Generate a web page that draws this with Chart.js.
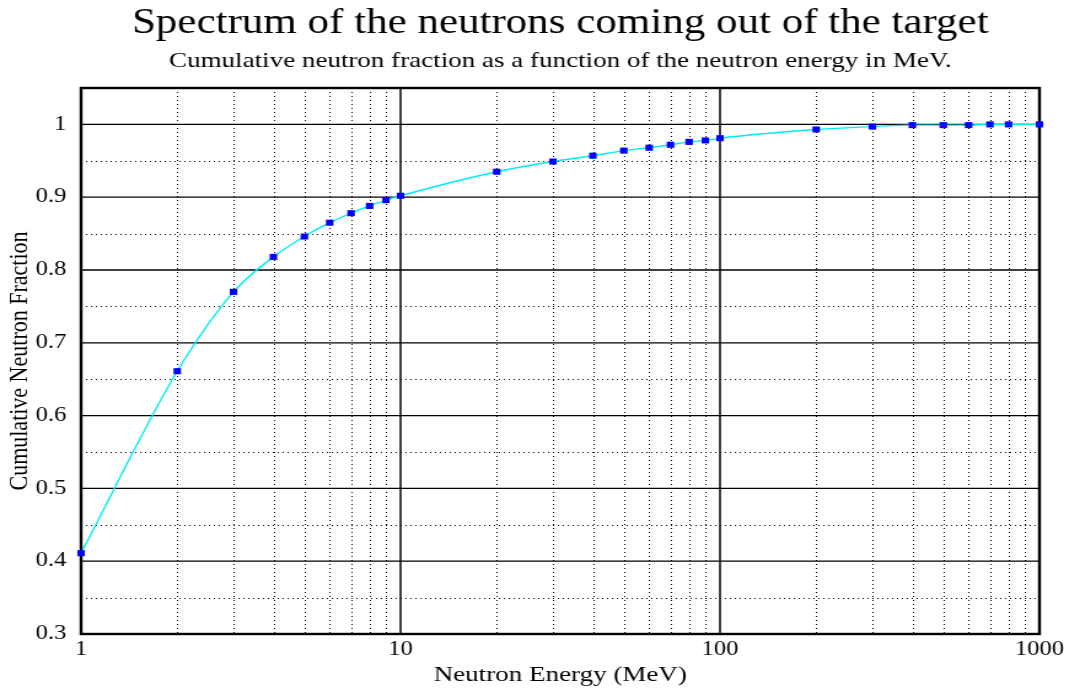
<!DOCTYPE html>
<html>
<head>
<meta charset="utf-8">
<title>Neutron spectrum</title>
<script src="https://cdn.jsdelivr.net/npm/chart.js"></script>
<style>
  html, body { margin: 0; padding: 0; background: #fff; overflow: hidden; }
  /* the reference is stretched sideways, so the chart is drawn narrower and widened here */
  .wrap { width: 870px; height: 689px; transform: scaleX(1.2287); transform-origin: 0 0; }
  #chart { display: block; }
</style>
</head>
<body>
<div class="wrap"><canvas id="chart" width="870" height="689"></canvas></div>
<script>
const energies = [1, 2, 3, 4, 5, 6, 7, 8, 9, 10, 20, 30, 40, 50, 60, 70, 80, 90, 100, 200, 300, 400, 500, 600, 700, 800, 1000]
const fractions = [0.411, 0.661, 0.770, 0.818, 0.846, 0.865, 0.878, 0.888, 0.896, 0.902, 0.935, 0.949, 0.957, 0.964, 0.968, 0.972, 0.976, 0.978, 0.981, 0.993, 0.997, 0.999, 0.999, 0.999, 1.0, 1.0, 1.0]

const x_ticks = [1, 10, 100, 1000]
const y_ticks = [0.3, 0.4, 0.5, 0.6, 0.7, 0.8, 0.9, 1.0]
const x_minor = [2, 3, 4, 5, 6, 7, 8, 9, 20, 30, 40, 50, 60, 70, 80, 90, 200, 300, 400, 500, 600, 700, 800, 900]
const y_minor = [0.35, 0.45, 0.55, 0.65, 0.75, 0.85, 0.95]

const serif = '"Liberation Serif", "DejaVu Serif", serif'

// gnuplot style grid: dotted minor lines, solid major lines, heavy frame
const gridPlugin = {
  id: 'gridPlugin',
  beforeDatasetsDraw(chart) {
    const ctx = chart.ctx
    const area = chart.chartArea
    const xs = chart.scales.x
    const ys = chart.scales.y
    ctx.save()
    ctx.strokeStyle = '#000'

    ctx.lineWidth = 1
    ctx.setLineDash([1, 3])
    x_minor.forEach(v => {
      const px = Math.round(xs.getPixelForValue(v)) + 0.5
      ctx.beginPath()
      ctx.moveTo(px, area.top)
      ctx.lineTo(px, area.bottom)
      ctx.stroke()
    })
    y_minor.forEach(v => {
      const py = Math.round(ys.getPixelForValue(v)) + 0.5
      ctx.beginPath()
      ctx.moveTo(area.left, py)
      ctx.lineTo(area.right, py)
      ctx.stroke()
    })

    ctx.setLineDash([])
    ctx.lineWidth = 1.5
    x_ticks.forEach(v => {
      const px = xs.getPixelForValue(v)
      ctx.beginPath()
      ctx.moveTo(px, area.top)
      ctx.lineTo(px, area.bottom)
      ctx.stroke()
    })
    ctx.lineWidth = 1.3
    y_ticks.forEach(v => {
      const py = ys.getPixelForValue(v)
      ctx.beginPath()
      ctx.moveTo(area.left, py)
      ctx.lineTo(area.right, py)
      ctx.stroke()
    })

    ctx.lineWidth = 2.4
    ctx.strokeRect(area.left, area.top, area.right - area.left, area.bottom - area.top)
    ctx.restore()
  }
}

const ctx = document.getElementById('chart').getContext('2d')
const myChart = new Chart(ctx, {
  type: 'line',
  data: {
    datasets: [{
      label: 'Cumulative neutron fraction',
      data: energies.map((e, i) => ({ x: e, y: fractions[i] })),
      borderColor: '#00ecf4',
      borderWidth: 1.4,
      cubicInterpolationMode: 'monotone',
      pointStyle: 'rect',
      pointRadius: 4.3,
      pointBackgroundColor: '#0000ff',
      pointBorderColor: '#0000ff',
      pointBorderWidth: 0,
      clip: false
    }]
  },
  options: {
    responsive: false,
    animation: false,
    devicePixelRatio: 1,
    layout: { padding: { left: 0, right: 24, top: 0, bottom: 0 } },
    plugins: {
      legend: { display: false },
      tooltip: { enabled: false },
      title: {
        display: true,
        fullSize: false,
        text: 'Spectrum of the neutrons coming out of the target',
        color: '#000',
        font: { family: serif, size: 35, weight: 'normal' },
        padding: { top: 2.5, bottom: 3.5 }
      },
      subtitle: {
        display: true,
        fullSize: false,
        text: 'Cumulative neutron fraction as a function of the neutron energy in MeV.',
        color: '#000',
        font: { family: serif, size: 22, weight: 'normal' },
        padding: { top: 0, bottom: 13.6 }
      }
    },
    scales: {
      x: {
        type: 'logarithmic',
        min: 1,
        max: 1000,
        afterBuildTicks: scale => { scale.ticks = x_ticks.map(v => ({ value: v })) },
        afterFit: scale => { scale.height = 55 },
        grid: { display: false, drawTicks: false },
        border: { display: false },
        ticks: {
          color: '#000',
          padding: 4,
          maxRotation: 0,
          autoSkip: false,
          font: { family: serif, size: 20 },
          callback: v => String(v)
        },
        title: {
          display: true,
          text: 'Neutron Energy (MeV)',
          color: '#000',
          font: { family: serif, size: 22 },
          padding: { top: 0, bottom: 1 }
        }
      },
      y: {
        min: 0.3,
        max: 1.05,
        afterBuildTicks: scale => { scale.ticks = y_ticks.map(v => ({ value: v })) },
        afterFit: scale => { scale.width = 66 },
        grid: { display: false, drawTicks: false },
        border: { display: false },
        ticks: {
          color: '#000',
          padding: 12,
          autoSkip: false,
          font: { family: serif, size: 20 },
          callback: v => String(+v.toFixed(1))
        },
        title: {
          display: true,
          text: 'Cumulative Neutron Fraction',
          color: '#000',
          font: { family: serif, size: 22 },
          padding: { top: 3, bottom: 0 }
        }
      }
    }
  },
  plugins: [gridPlugin]
})
</script>
</body>
</html>
